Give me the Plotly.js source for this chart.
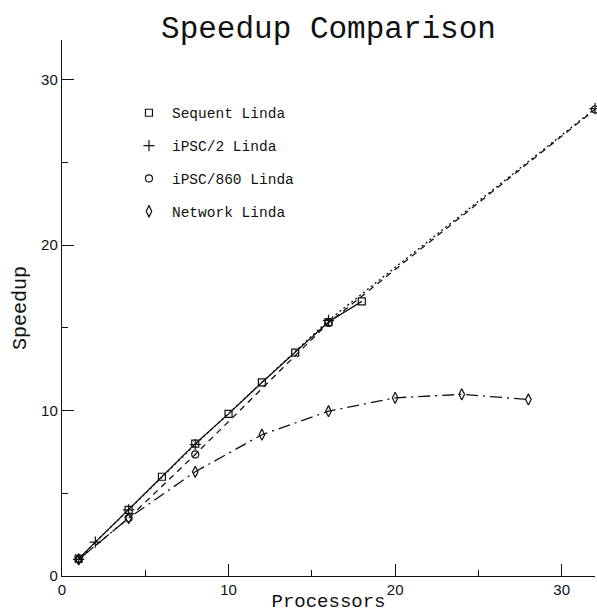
<!DOCTYPE html>
<html>
<head>
<meta charset="utf-8">
<script src="https://cdn.plot.ly/plotly-3.0.1.min.js"></script>
<style>html,body{margin:0;padding:0;background:#fff;}#chart{width:597px;height:613px;}</style>
</head>
<body>
<div id="chart"></div>
<script>
// Data
const seriesNames = ["Sequent Linda", "iPSC/2 Linda", "iPSC/860 Linda", "Network Linda"];
const xSequent = [1, 4, 6, 8, 10, 12, 14, 16, 18];
const ySequent = [1.05, 4.0, 6.0, 8.0, 9.8, 11.7, 13.5, 15.35, 16.6];
const xIpsc2 = [1, 2, 4, 8, 16, 32];
const yIpsc2 = [1.0, 2.05, 4.0, 7.95, 15.45, 28.25];
const xIpsc860 = [1, 4, 8, 16, 32];
const yIpsc860 = [1.0, 3.5, 7.35, 15.3, 28.2];
const xNetwork = [1, 4, 8, 12, 16, 20, 24, 28];
const yNetwork = [1.0, 3.5, 6.3, 8.54, 9.96, 10.77, 10.98, 10.67];
const xTicks = [0, 10, 20, 30];
const yTicks = [0, 10, 20, 30];

const ink = "#111";
const mono = "Liberation Mono, Courier New, monospace";

const specs = [
  {name: seriesNames[0], x: xSequent, y: ySequent, dash: "solid", symbol: "square-open", size: 7},
  {name: seriesNames[1], x: xIpsc2, y: yIpsc2, dash: "2px,3px", symbol: "cross-thin-open", size: 8},
  {name: seriesNames[2], x: xIpsc860, y: yIpsc860, dash: "6px,5px", symbol: "circle-open", size: 7},
  {name: seriesNames[3], x: xNetwork, y: yNetwork, dash: "12px,5px,2px,5px", symbol: "diamond-tall-open", size: 8}
];

const traces = [];
specs.forEach((s, i) => {
  traces.push({
    type: "scatter", mode: "lines", x: s.x, y: s.y, name: s.name,
    legendgroup: "g" + i, showlegend: false, cliponaxis: false,
    line: {color: ink, width: 1.3, dash: s.dash}
  });
  traces.push({
    type: "scatter", mode: "markers", x: s.x, y: s.y, name: s.name,
    legendgroup: "g" + i, showlegend: true, cliponaxis: false,
    marker: {color: ink, size: s.size, symbol: s.symbol, line: {color: ink, width: 1.2}}
  });
});

const layout = {
  width: 597, height: 613,
  paper_bgcolor: "#fff", plot_bgcolor: "#fff",
  margin: {l: 62, r: 2, t: 40, b: 37},
  title: {
    text: "Speedup Comparison",
    font: {family: mono, size: 31, color: ink},
    x: 0.5, xref: "paper", xanchor: "center",
    y: 0.955, yref: "container", yanchor: "middle"
  },
  xaxis: {
    range: [0, 32], showgrid: false, zeroline: false,
    showline: true, linecolor: ink, linewidth: 1.2,
    tickmode: "array", tickvals: xTicks, ticktext: xTicks.map(String),
    ticks: "inside", ticklen: 12, tickwidth: 1, tickcolor: ink,
    minor: {dtick: 5, tick0: 0, ticks: "inside", ticklen: 6, tickwidth: 1, tickcolor: ink, showgrid: false},
    tickfont: {family: "Liberation Sans, Arial, sans-serif", size: 15, color: ink},
    title: {text: "Processors", font: {family: mono, size: 19, color: ink}, standoff: 5}
  },
  yaxis: {
    range: [0, 32.4], showgrid: false, zeroline: false,
    showline: true, linecolor: ink, linewidth: 1.2,
    tickmode: "array", tickvals: yTicks, ticktext: yTicks.map(String),
    ticks: "inside", ticklen: 12, tickwidth: 1, tickcolor: ink,
    minor: {dtick: 5, tick0: 0, ticks: "inside", ticklen: 6, tickwidth: 1, tickcolor: ink, showgrid: false},
    tickfont: {family: "Liberation Sans, Arial, sans-serif", size: 15, color: ink},
    title: {text: "Speedup", font: {family: mono, size: 20, color: ink}, standoff: 9}
  },
  showlegend: true,
  legend: {
    x: 0.12, xanchor: "left", y: 0.894, yanchor: "top",
    bgcolor: "rgba(0,0,0,0)", borderwidth: 0,
    font: {family: mono, size: 14.5, color: ink},
    tracegroupgap: 11, itemsizing: "trace", itemwidth: 36
  }
};

Plotly.newPlot("chart", traces, layout, {staticPlot: true, displayModeBar: false});
</script>
</body>
</html>
